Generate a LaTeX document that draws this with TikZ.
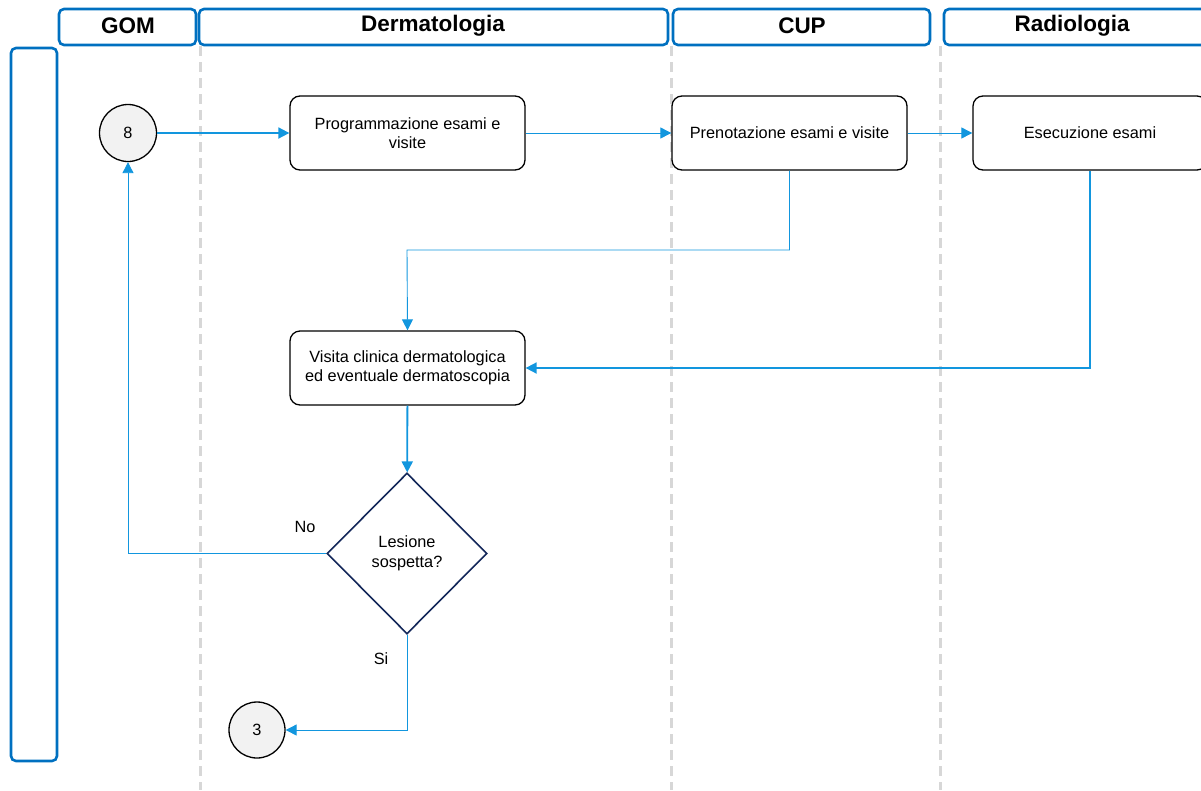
\documentclass[tikz,border=0pt]{standalone}
\usepackage{fontspec}
\setmainfont{Liberation Sans}
\usetikzlibrary{arrows.meta,shapes.geometric}
\definecolor{laneblue}{RGB}{0,112,192}
\definecolor{flow}{RGB}{18,150,222}
\definecolor{navy}{RGB}{20,40,90}
\definecolor{dashgray}{RGB}{215,215,215}
\definecolor{connfill}{RGB}{242,242,242}
\begin{document}
\begin{tikzpicture}[x=1pt,y=-1pt,
  lanehead/.style={draw=laneblue,line width=2.6pt,rounded corners=5pt},
  headtext/.style={font=\fontsize{22.5}{24}\selectfont\bfseries},
  lanesep/.style={draw=dashgray,line width=3pt,dash pattern=on 10pt off 6pt},
  procbox/.style={draw=black,line width=1.3pt,rounded corners=10pt,fill=white,
    minimum width=235pt,minimum height=74pt,align=center,inner sep=0pt,
    font=\fontsize{16.3}{19.5}\selectfont},
  connector/.style={circle,draw=black,line width=1.3pt,fill=connfill,
    minimum size=57pt,inner sep=0pt,font=\fontsize{16.3}{19}\selectfont},
  decision/.style={diamond,draw=navy,line width=1.6pt,fill=white,
    minimum width=160pt,minimum height=161pt,inner sep=0pt,align=center,
    font=\fontsize{16.3}{19.5}\selectfont},
  flowthin/.style={draw=flow,line width=0.9pt,-{Triangle[length=11pt,width=11pt]}},
  flowthick/.style={draw=flow,line width=1.8pt,-{Triangle[length=11pt,width=11pt]}},
  lbl/.style={font=\fontsize{16.3}{19}\selectfont}
]
\useasboundingbox (0,0) rectangle (1201,790);

% lane separators
\draw[lanesep] (200,46) -- (200,790);
\draw[lanesep] (671,46) -- (671,790);
\draw[lanesep] (940,46) -- (940,790);

% lane headers
\draw[lanehead] (59,9) rectangle (196,45);
\node[headtext] (hgom) at (128,26) {GOM};
\draw[lanehead] (199,9) rectangle (668,45);
\node[headtext] (hderm) at (433,26) {Dermatologia};
\draw[lanehead] (673,9) rectangle (930,45);
\node[headtext] (hcup) at (802,26) {CUP};
\draw[lanehead] (944,9) rectangle (1210,45);
\node[headtext] (hrad) at (1072,26) {Radiologia};

% left side bar
\draw[lanehead] (11,48) rectangle (57,761);

% nodes
\node[connector] (c8) at (128,133) {8};
\node[procbox] (prog) at (407.5,133) {Programmazione esami e\\visite};
\node[procbox] (pren) at (789.5,133) {Prenotazione esami e visite};
\node[procbox,minimum width=234pt] (esec) at (1090,133) {Esecuzione esami};
\node[procbox] (visita) at (407.5,368) {Visita clinica dermatologica\\ed eventuale dermatoscopia};
\node[decision] (dec) at (407,553.5) {Lesione\\sospetta?};
\node[connector,minimum size=56pt] (c3) at (257,730) {3};

% connectors
\draw[flowthick] (c8) -- (prog);
\draw[flowthin] (prog) -- (pren);
\draw[flowthin] (pren) -- (esec);
\draw[flowthin] (pren.south) |- (407,250) -- (visita.north);
\draw[flowthick] (esec.south) |- (visita.east);
\draw[flowthick] (visita) -- (dec);
\draw[flowthin] (dec.west) -| (c8.south);
\draw[flowthin] (dec.south) |- (c3.east);

% branch labels
\node[lbl] (lno) at (305,527) {No};
\node[lbl] (lsi) at (381,659) {Si};
\end{tikzpicture}
\end{document}
